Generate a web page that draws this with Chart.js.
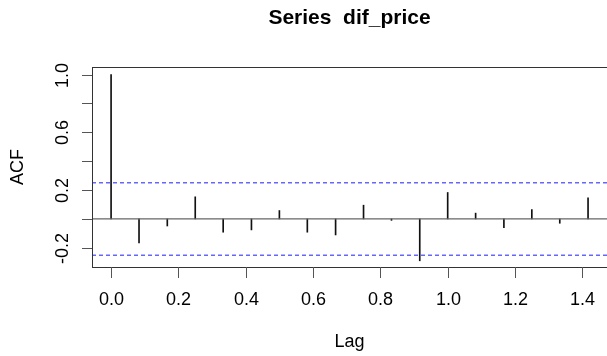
<!DOCTYPE html>
<html lang="en">
<head>
<meta charset="UTF-8">
<title>Series dif_price</title>
<script src="https://cdn.jsdelivr.net/npm/chart.js"></script>
<style>
  body { margin: 0; background: #fff; }
  #acf { display: block; }
</style>
</head>
<body>
<canvas id="acf" width="607" height="356"></canvas>
<script>
// monthly lags, shown in years
const lags = [0.000, 0.083, 0.167, 0.250, 0.333, 0.417, 0.500, 0.583, 0.667,
              0.750, 0.833, 0.917, 1.000, 1.083, 1.167, 1.250, 1.333, 1.417];
const acfValues = [1.000, -0.167, -0.049, 0.153, -0.092, -0.076, 0.058, -0.092, -0.111,
                   0.095, -0.010, -0.290, 0.183, 0.040, -0.060, 0.065, -0.030, 0.146];
const confLimit = 0.251;

const xTicks = [0, 0.2, 0.4, 0.6, 0.8, 1.0, 1.2, 1.4];
const xTickLabels = ['0.0', '0.2', '0.4', '0.6', '0.8', '1.0', '1.2', '1.4'];
const yTicks = [-0.2, 0, 0.2, 0.4, 0.6, 0.8, 1.0];
const yTickLabels = ['-0.2', '', '0.2', '', '0.6', '', '1.0'];

const X_MIN = -0.0567, X_MAX = 1.4733;
const Y_MIN = -0.333, Y_MAX = 1.052;
const FONT = '"Liberation Sans", Arial, sans-serif';

// R-style frame, ticks and labels
const rAxes = {
    id: 'rAxes',
    afterDraw(chart) {
        const { ctx, chartArea: a, scales: { x, y } } = chart;
        ctx.save();
        ctx.strokeStyle = '#333';
        ctx.lineWidth = 1;
        ctx.strokeRect(a.left + 0.5, a.top + 0.5, a.right - a.left, a.bottom - a.top);

        ctx.fillStyle = '#000';
        ctx.font = '18px ' + FONT;
        ctx.strokeStyle = '#555';

        // x axis
        ctx.textAlign = 'center';
        ctx.textBaseline = 'middle';
        xTicks.forEach((v, i) => {
            const px = Math.round(x.getPixelForValue(v)) + 0.5;
            ctx.beginPath();
            ctx.moveTo(px, a.bottom);
            ctx.lineTo(px, a.bottom + 11);
            ctx.stroke();
            ctx.fillText(xTickLabels[i], px, 300);
        });

        // y axis, labels parallel to the axis
        yTicks.forEach((v, i) => {
            const py = Math.round(y.getPixelForValue(v)) + 0.5;
            ctx.beginPath();
            ctx.moveTo(a.left - 10, py);
            ctx.lineTo(a.left, py);
            ctx.stroke();
            if (yTickLabels[i]) {
                ctx.save();
                ctx.translate(63, py);
                ctx.rotate(-Math.PI / 2);
                ctx.fillText(yTickLabels[i], 0, 0);
                ctx.restore();
            }
        });

        ctx.fillText('Lag', (a.left + a.right) / 2, 342);
        ctx.save();
        ctx.translate(18, (a.top + a.bottom) / 2);
        ctx.rotate(-Math.PI / 2);
        ctx.fillText('ACF', 0, 0);
        ctx.restore();

        ctx.font = 'bold 21px ' + FONT;
        ctx.fillText('Series  dif_price', (a.left + a.right) / 2, 18);
        ctx.restore();
    }
};

new Chart(document.getElementById('acf'), {
    type: 'bar',
    data: {
        datasets: [
            {
                type: 'line',
                data: [{ x: X_MIN, y: 0 }, { x: X_MAX, y: 0 }],
                borderColor: '#666',
                borderWidth: 1.3,
                pointRadius: 0,
                order: 1
            },
            {
                type: 'line',
                data: [{ x: X_MIN, y: confLimit }, { x: X_MAX, y: confLimit }],
                borderColor: 'rgba(0, 0, 255, 0.6)',
                borderWidth: 1.5,
                borderDash: [4, 3],
                pointRadius: 0,
                order: 0
            },
            {
                type: 'line',
                data: [{ x: X_MIN, y: -confLimit }, { x: X_MAX, y: -confLimit }],
                borderColor: 'rgba(0, 0, 255, 0.6)',
                borderWidth: 1.5,
                borderDash: [4, 3],
                pointRadius: 0,
                order: 0
            },
            {
                data: lags.map((l, i) => ({ x: l, y: acfValues[i] })),
                backgroundColor: '#111',
                barThickness: 1,
                order: 2
            }
        ]
    },
    options: {
        responsive: false,
        devicePixelRatio: 1,
        animation: false,
        layout: { padding: { left: 92, right: 0, top: 67, bottom: 89 } },
        plugins: { legend: { display: false }, tooltip: { enabled: false } },
        scales: {
            x: { type: 'linear', min: X_MIN, max: X_MAX, offset: false, display: false },
            y: { type: 'linear', min: Y_MIN, max: Y_MAX, display: false }
        }
    },
    plugins: [rAxes]
});
</script>
</body>
</html>
